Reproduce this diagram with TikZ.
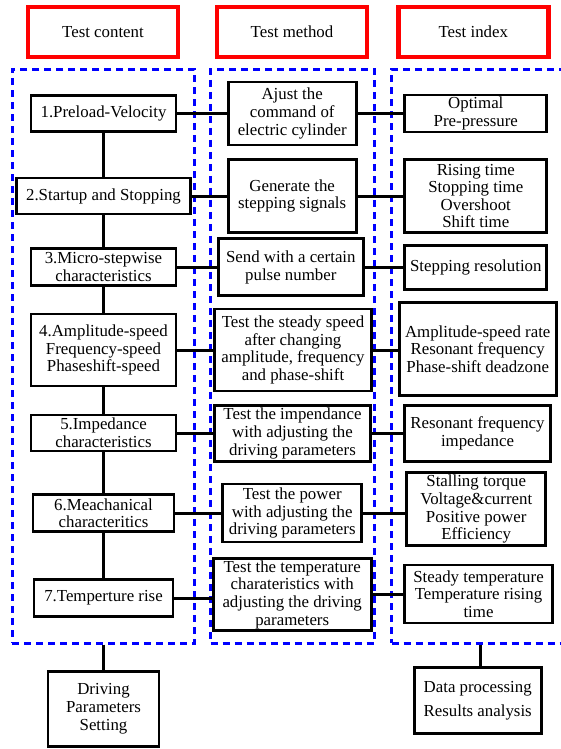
\documentclass[tikz,border=0pt]{standalone}
\usepackage{fontspec}
\setmainfont{Liberation Serif}
\begin{document}
\begin{tikzpicture}[x=1bp, y=-1bp,
    font=\fontsize{16.9}{17.7}\selectfont,
    box/.style={draw, line width=2.8bp, align=center, inner sep=0pt},
    headbox/.style={draw=red, line width=4.5bp, minimum width=150bp, minimum height=50bp, inner sep=0pt},
    group/.style={draw=blue, line width=3bp, dash pattern=on 7bp off 5bp},
    link/.style={line width=3bp}]
    \useasboundingbox (0,0) rectangle (561,749);

    % Titres
    \node[headbox] (hcontent) at (103,32) {Test content};
    \node[headbox] (hmethod) at (292,32) {Test method};
    \node[headbox] (hindex) at (473.3,32) {Test index};

    % Cadres en pointilles
    \node[group, minimum width=182.5bp, minimum height=574bp] (gcontent) at (103.7,356.2) {};
    \node[group, minimum width=163.6bp, minimum height=574bp] (gmethod) at (292.5,356.2) {};
    \node[group, minimum width=190bp, minimum height=574bp] (gindex) at (486.7,356.2) {};

    % Contenu
    \node[box, minimum width=145bp, minimum height=36bp] (c1) at (103.5,113.5) {1.Preload-Velocity};
    \node[box, minimum width=174bp, minimum height=36bp] (c2) at (103.5,196) {2.Startup and Stopping};
    \node[box, minimum width=145bp, minimum height=37bp] (c3) at (103.5,267.3) {3.Micro-stepwise\\characteristics};
    \node[box, minimum width=145bp, minimum height=72bp] (c4) at (103.5,350) {4.Amplitude-speed\\Frequency-speed\\Phaseshift-speed};
    \node[box, minimum width=145bp, minimum height=36bp] (c5) at (103.5,433) {5.Impedance\\characteristics};
    \node[box, minimum width=141bp, minimum height=37bp] (c6) at (103.5,513.3) {6.Meachanical\\characteritics};
    \node[box, minimum width=139bp, minimum height=37bp] (c7) at (103.5,598) {7.Temperture rise};

    % Methode
    \node[box, minimum width=128bp, minimum height=63bp] (m1) at (292.2,113.5) {Ajust the\\command of\\electric cylinder};
    \node[box, minimum width=128bp, minimum height=73bp] (m2) at (292.2,196) {Generate the\\stepping signals};
    \node[box, minimum width=145bp, minimum height=57bp] (m3) at (290.8,267.3) {Send with a certain\\pulse number};
    \node[box, minimum width=157bp, minimum height=82bp] (m4) at (293,350) {Test the steady speed\\after changing\\amplitude, frequency\\and phase-shift};
    \node[box, minimum width=156bp, minimum height=56bp] (m5) at (292.5,433.5) {Test the impendance\\with adjusting the\\driving parameters};
    \node[box, minimum width=139bp, minimum height=58bp] (m6) at (292.2,513) {Test the power\\with adjusting the\\driving parameters};
    \node[box, minimum width=158bp, minimum height=72bp] (m7) at (292.2,594.5) {Test the temperature\\charateristics with\\adjusting the driving\\parameters};

    % Indices
    \node[box, minimum width=142bp, minimum height=37bp] (i1) at (475.8,113.5) {Optimal\\Pre-pressure};
    \node[box, minimum width=142bp, minimum height=73bp] (i2) at (475.8,196) {Rising time\\Stopping time\\Overshoot\\Shift time};
    \node[box, minimum width=142bp, minimum height=44bp] (i3) at (475.8,267.3) {Stepping resolution};
    \node[box, minimum width=157bp, minimum height=93bp] (i4) at (477.7,349.2) {Amplitude-speed rate\\Resonant frequency\\Phase-shift deadzone};
    \node[box, minimum width=146bp, minimum height=56bp] (i5) at (477.5,433.5) {Resonant frequency\\impedance};
    \node[box, minimum width=139bp, minimum height=73bp] (i6) at (476.2,509.3) {Stalling torque\\Voltage\&current\\Positive power\\Efficiency};
    \node[box, minimum width=148bp, minimum height=58bp] (i7) at (478.5,594) {Steady temperature\\Temperature rising\\time};

    % Blocs du bas
    \node[box, minimum width=111bp, minimum height=75bp] (drive) at (103.5,708.8) {Driving\\Parameters\\Setting};
    \node[box, minimum width=127bp, minimum height=66bp] (data) at (477.7,700.8) {Data processing\\[5.5bp]Results analysis};

    % Liaisons verticales
    \foreach \a/\b in {c1/c2,c2/c3,c3/c4,c4/c5,c5/c6,c6/c7}
        \draw[link] (\a.south) -- (\b.north);
    \draw[link] (gcontent.south -| drive.north) -- (drive.north);
    \draw[link] ([xshift=3bp]data.north |- gindex.south) -- ([xshift=3bp]data.north);

    % Liaisons horizontales
    \foreach \n in {1,...,7} {
        \draw[link] (c\n.east) -- (c\n.east -| m\n.west);
        \draw[link] (m\n.east) -- (m\n.east -| i\n.west);
    }
\end{tikzpicture}
\end{document}
